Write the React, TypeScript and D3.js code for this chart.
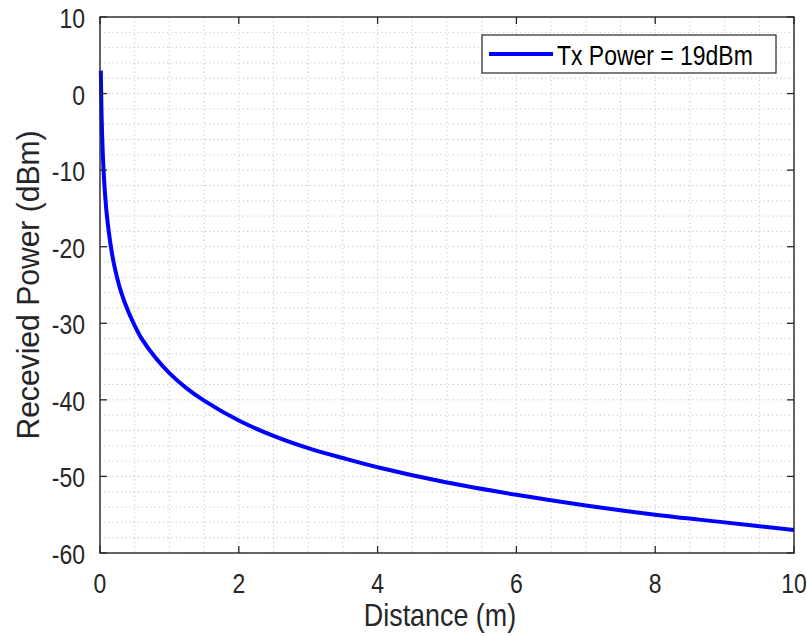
import React from "react";
import * as d3 from "d3";

const distances = [0.012, 0.015, 0.02, 0.03, 0.04, 0.05, 0.075, 0.1, 0.15, 0.2, 0.3, 0.4, 0.5, 0.6, 0.8, 1.0, 1.25, 1.5, 2, 2.5, 3, 3.5, 4, 5, 6, 7, 8, 9, 10];
const power = [3, 1, -1.6, -5.3, -7.8, -9.8, -13.4, -16, -19.6, -22.2, -25.8, -28.3, -30.3, -32, -34.5, -36.5, -38.5, -40.1, -42.7, -44.7, -46.3, -47.6, -48.8, -50.8, -52.4, -53.8, -55, -56, -57];
const xTicks = [0, 2, 4, 6, 8, 10];
const yTicks = [-60, -50, -40, -30, -20, -10, 0, 10];
const seriesName = "Tx Power = 19dBm";
const xLabel = "Distance (m)";
const yLabel = "Recevied Power (dBm)";

const W = 807, H = 636;
const L = 100, R = 794, T = 17, B = 553;
const FONT = "'Liberation Sans', Arial, Helvetica, sans-serif";
const SX = 0.82;

export default function App() {
  const x = d3.scaleLinear().domain([0, 10]).range([L, R]);
  const y = d3.scaleLinear().domain([-60, 10]).range([B, T]);
  const xMinor = d3.range(0, 10.001, 0.5);
  const yMinor = d3.range(-60, 10.001, 2);
  const pts = distances.map((d, i) => [d, power[i]] as [number, number]);
  const line = d3.line<[number, number]>().x(d => x(d[0])).y(d => y(d[1])).curve(d3.curveCatmullRom.alpha(0.5));
  const axisColor = "#262626";
  const gridColor = "#c4c4c4";
  return (
    <svg width={W} height={H} style={{ position: "absolute", left: 0, top: 0, background: "#fff" }}>
      <rect x={0} y={0} width={W} height={H} fill="#fff" />
      {xMinor.map((v, i) => (
        <line key={"gx" + i} x1={x(v)} x2={x(v)} y1={T} y2={B} stroke={gridColor} strokeWidth={1} strokeDasharray="1.2,3" />
      ))}
      {yMinor.map((v, i) => (
        <line key={"gy" + i} x1={L} x2={R} y1={y(v)} y2={y(v)} stroke={gridColor} strokeWidth={1} strokeDasharray="1.2,3" />
      ))}
      <path d={line(pts) || ""} fill="none" stroke="#0000ff" strokeWidth={4} />
      <rect x={L} y={T} width={R - L} height={B - T} fill="none" stroke={axisColor} strokeWidth={1.4} />
      {xTicks.map((v, i) => (
        <g key={"xt" + i}>
          <line x1={x(v)} x2={x(v)} y1={B} y2={B - 7} stroke={axisColor} strokeWidth={1.3} />
          <line x1={x(v)} x2={x(v)} y1={T} y2={T + 7} stroke={axisColor} strokeWidth={1.3} />
          <g transform={`translate(${x(v)},${593}) scale(${SX},1)`}>
            <text textAnchor="middle" fontFamily={FONT} fontSize={28} fill={axisColor}>{v}</text>
          </g>
        </g>
      ))}
      {yTicks.map((v, i) => (
        <g key={"yt" + i}>
          <line x1={L} x2={L + 7} y1={y(v)} y2={y(v)} stroke={axisColor} strokeWidth={1.3} />
          <line x1={R} x2={R - 7} y1={y(v)} y2={y(v)} stroke={axisColor} strokeWidth={1.3} />
          <g transform={`translate(${85},${y(v) + 11}) scale(${SX},1)`}>
            <text textAnchor="end" fontFamily={FONT} fontSize={28} fill={axisColor}>{v}</text>
          </g>
        </g>
      ))}
      <g transform={`translate(${440},${626}) scale(0.84,1)`}>
        <text textAnchor="middle" fontFamily={FONT} fontSize={32} fill={axisColor}>{xLabel}</text>
      </g>
      <g transform={`translate(${39},${285}) rotate(-90) scale(0.94,1)`}>
        <text textAnchor="middle" fontFamily={FONT} fontSize={32} fill={axisColor}>{yLabel}</text>
      </g>
      <rect x={482} y={35} width={294} height={38} fill="#fff" stroke={axisColor} strokeWidth={1.2} />
      <line x1={489} x2={553} y1={54} y2={54} stroke="#0000ff" strokeWidth={4} />
      <g transform={`translate(${557},${65}) scale(${SX},1)`}>
        <text fontFamily={FONT} fontSize={28} fill="#000">{seriesName}</text>
      </g>
    </svg>
  );
}
